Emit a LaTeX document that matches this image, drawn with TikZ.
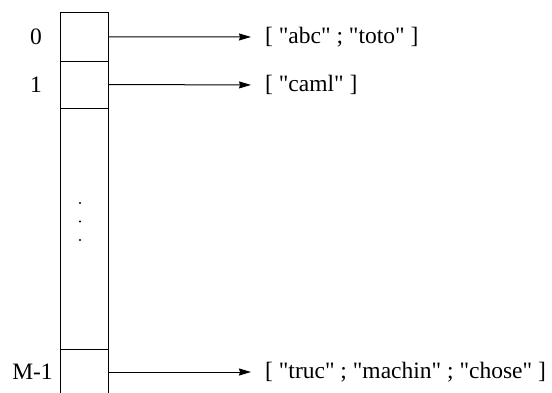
\documentclass[tikz,border=0pt]{standalone}
\usepackage{fontspec}
\setmainfont{Liberation Serif}[Ligatures=TeXOff]
\usetikzlibrary{arrows.meta}
\begin{document}
\begin{tikzpicture}[x=1pt,y=-1pt,
  cell/.style={draw,line width=0.9pt,minimum width=48pt,inner sep=0pt,outer sep=0pt},
  idx/.style={inner sep=0pt,font=\fontsize{23.5}{28}\selectfont},
  lst/.style={anchor=west,inner sep=0pt,font=\fontsize{23.5}{28}\selectfont},
  ptr/.style={line width=1pt,-{Stealth[length=12pt,width=7pt,inset=1pt]},shorten >=14pt},
  dot/.style={fill,inner sep=0pt,minimum size=2.4pt,circle}]
\useasboundingbox (0,0) rectangle (552,392);
\clip (0,0) rectangle (552,392);
% array cells
\node[cell,minimum height=48.5pt] (c0) at (84,36.75) {};
\node[cell,minimum height=47pt] (c1) at (84,84.5) {};
\node[cell,minimum height=241pt] (gap) at (84,228.5) {};
\node[cell,minimum height=46pt] (cm) at (84,372) {};
% vertical ellipsis
\node[dot] (d1) at (80,203) {};
\node[dot] (d2) at (80,221.5) {};
\node[dot] (d3) at (80,240) {};
% indices
\node[idx] (i0) at (36,37) {0};
\node[idx] (i1) at (36,85) {1};
\node[idx] (im) at (32.5,372) {M-1};
% bucket lists
\node[lst] (l0) at (265,37) {[ "abc" ; "toto" ]};
\node[lst] (l1) at (265,85) {[ "caml" ]};
\node[lst] (lm) at (265,372) {[ "truc" ; "machin" ; "chose" ]};
% pointers
\draw[ptr] (c0.east) -- (l0.west);
\draw[ptr] (c1.east) -- (l1.west);
\draw[ptr] (cm.east) -- (lm.west);
\end{tikzpicture}
\end{document}
